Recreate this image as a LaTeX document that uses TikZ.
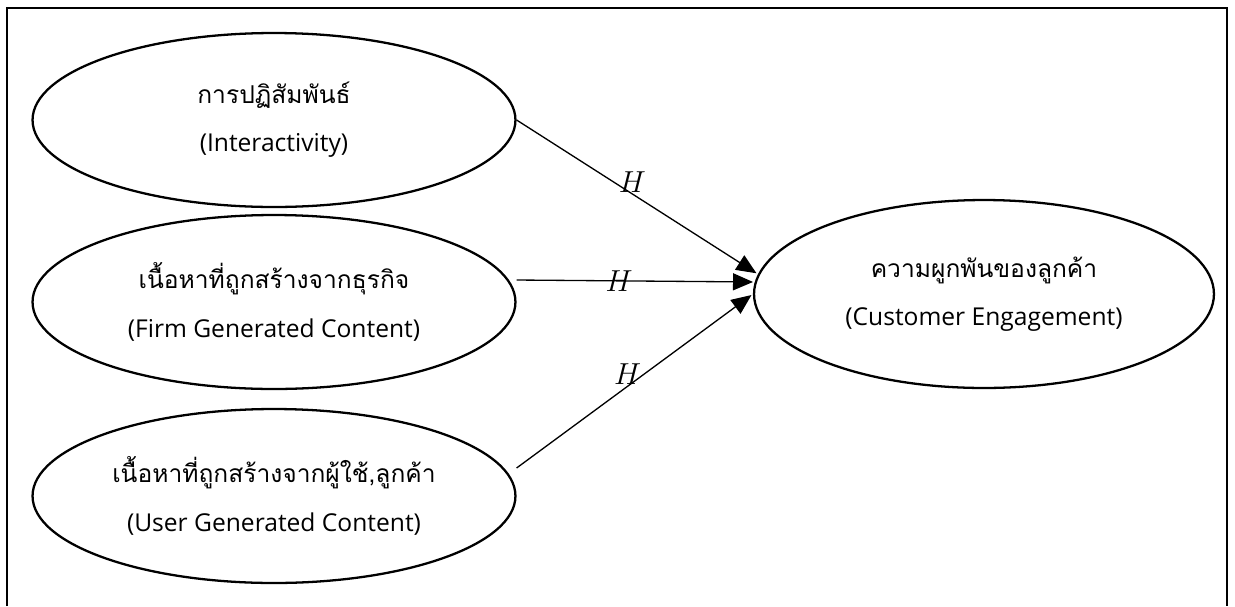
\documentclass[tikz,border=0pt]{standalone}
\usepackage{fontspec}
\setmainfont{Open Sans}
\newfontfamily\thaifont[Script=Thai]{Loma}
\usetikzlibrary{positioning,arrows.meta,shapes.geometric}
\tikzset{
  varbox/.style={draw, ellipse, line width=1.3pt, align=center, inner sep=0pt,
    font=\fontsize{14}{27.5}\selectfont},
  hyparrow/.style={-{Triangle[length=4mm,width=3.4mm]}, line width=0.75pt, shorten >=1pt},
  hyplabel/.style={font=\fontsize{17}{19}\selectfont, inner sep=0.5pt},
}

\begin{document}
\begin{tikzpicture}[x=0.02cm, y=-0.02cm,
    cause/.style={varbox, minimum width=9.66cm, minimum height=3.48cm},
    effect/.style={varbox, minimum width=9.2cm, minimum height=3.76cm}]
  \useasboundingbox (0,0) rectangle (1235,606);
  % frame, open at the bottom
  \draw[line width=1pt] (7,606) |- (1227,8) -- (1227,606);

  \node[cause] (inter) at (274,120) {{\thaifont การปฏิสัมพันธ์}\\(Interactivity)};
  \node[cause] (firm) at (274,302) {{\thaifont เนื้อหาที่ถูกสร้างจากธุรกิจ}\\(Firm Generated Content)};
  \node[cause] (user) at (274,496) {{\thaifont เนื้อหาที่ถูกสร้างจากผู้ใช้,ลูกค้า}\\(User Generated Content)};
  \node[effect] (engage) at (984,294) {{\thaifont ความผูกพันของลูกค้า}\\(Customer Engagement)};

  \draw[hyparrow] (inter.east) -- node[hyplabel, pos=0.48, anchor=south] {$H$} (engage.175);
  \draw[hyparrow] ([yshift=0.44cm]firm.east) -- node[hyplabel, pos=0.43] {$H$} (engage.177);
  \draw[hyparrow] ([yshift=0.56cm]user.east) -- node[hyplabel, pos=0.47, anchor=south] {$H$} (engage.180);
\end{tikzpicture}
\end{document}
